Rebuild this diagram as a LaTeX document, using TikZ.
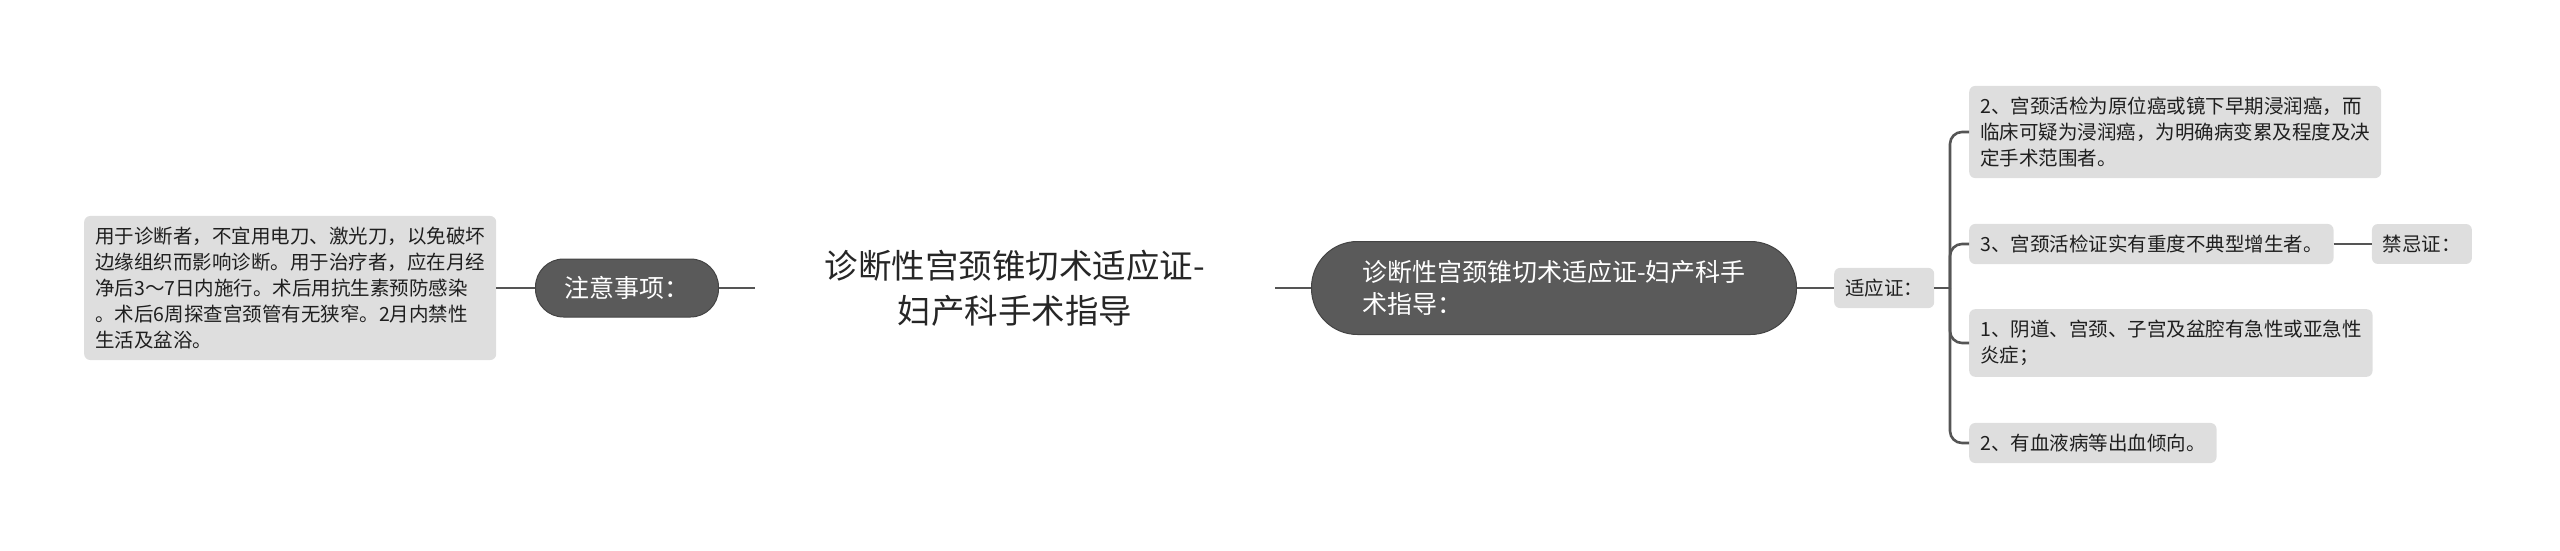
\documentclass[tikz,border=0pt]{standalone}
\usepackage{fontspec}
\setmainfont{Noto Sans CJK SC}
\usepackage{xcolor}
\usetikzlibrary{positioning}
\definecolor{linegray}{HTML}{555555}
\definecolor{pillgray}{HTML}{5A5A5A}
\definecolor{pilledge}{HTML}{444444}
\definecolor{leafgray}{HTML}{DEDEDE}

\begin{document}
\begin{tikzpicture}[x=1pt,y=-1pt,
  leaf/.style={fill=leafgray,rounded corners=6pt,inner xsep=11pt,inner ysep=11pt,align=left,anchor=west,text=black!88,font=\fontsize{19.5}{26}\selectfont},
  pill/.style={fill=pillgray,draw=pilledge,line width=1pt,text=white,font=\fontsize{25}{32}\selectfont},
  link/.style={draw=linegray,line width=2.6pt}]
\useasboundingbox (0,0) rectangle (2560,551);
%\draw[help lines,step=100](0,0)grid(2560,551);
\node[leaf] (care) at (84,288) {用于诊断者，不宜用电刀、激光刀，以免破坏\\边缘组织而影响诊断。用于治疗者，应在月经\\净后3～7日内施行。术后用抗生素预防感染\\。术后6周探查宫颈管有无狭窄。2月内禁性\\生活及盆浴。};
\node[pill,rounded corners=28pt,minimum width=183pt,minimum height=58pt] (notes) at (627,288) {注意事项：};
\node[font=\fontsize{33.5}{45}\selectfont,align=center,minimum width=520pt,text=black!85] (title) at (1015,288) {诊断性宫颈锥切术适应证-\\妇产科手术指导};
\node[pill,rounded corners=46pt,minimum width=485pt,minimum height=93pt,align=left] (main) at (1554,288) {诊断性宫颈锥切术适应证-妇产科手\\术指导：};
\node[leaf] (indic) at (1834,288) {适应证：};
\coordinate (fork) at (1950,288);

\node[leaf] (A) at (1969,132) {2、宫颈活检为原位癌或镜下早期浸润癌，而\\临床可疑为浸润癌，为明确病变累及程度及决\\定手术范围者。};
\node[leaf] (B) at (1969,244) {3、宫颈活检证实有重度不典型增生者。};
\node[leaf,right=38pt of B] (contra) {禁忌证：};
\node[leaf] (C) at (1969,343) {1、阴道、宫颈、子宫及盆腔有急性或亚急性\\炎症；};
\node[leaf] (D) at (1969,443) {2、有血液病等出血倾向。};

\draw[link] (care) -- (notes);
\draw[link] (notes) -- (title);
\draw[link] (title) -- (main);
\draw[link] (main) -- (indic);
\draw[link] (indic) -- (fork);
\foreach \leafname in {A,B,C,D}
  \draw[link,rounded corners=12pt] (fork) |- (\leafname.west);
\draw[link] (B) -- (contra);

\end{tikzpicture}
\end{document}
